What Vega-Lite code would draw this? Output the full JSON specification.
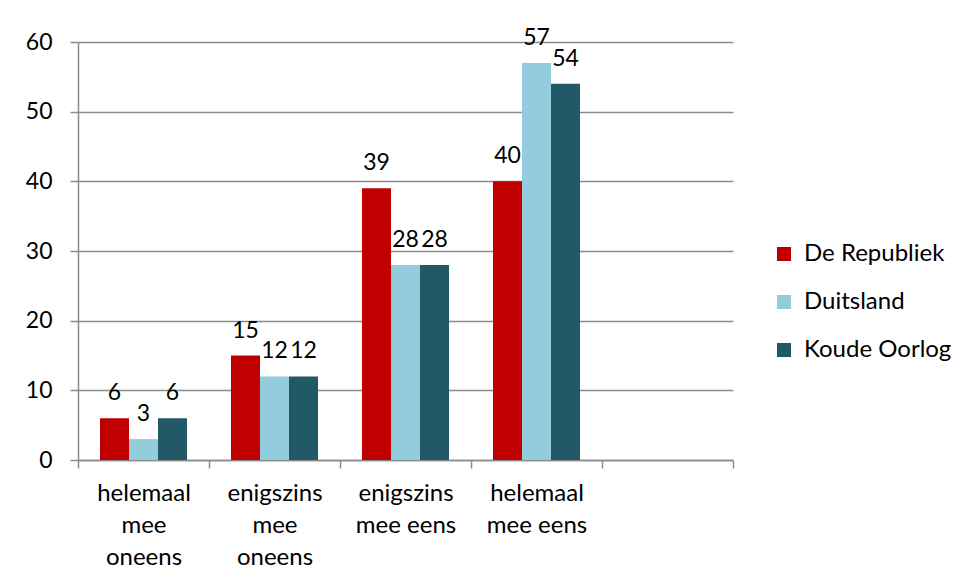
{
  "$schema": "https://vega.github.io/schema/vega-lite/v6.json",
  "autosize": "none",
  "width": 655,
  "height": 418,
  "padding": {"left": 78, "top": 42, "right": 225, "bottom": 123},
  "background": "white",
  "config": {
    "font": "Lato",
    "view": {"stroke": null},
    "axis": {"labelFont": "Lato", "labelColor": "#000000", "domainColor": "#8c8c8c", "tickColor": "#8c8c8c", "gridColor": "#8c8c8c", "domainWidth": 1.5, "tickWidth": 1.5, "gridWidth": 1.5}
  },
  "data": {
    "values": [
      {"cat": "helemaal|mee|oneens", "serie": "De Republiek", "val": 6},
      {"cat": "helemaal|mee|oneens", "serie": "Duitsland", "val": 3},
      {"cat": "helemaal|mee|oneens", "serie": "Koude Oorlog", "val": 6},
      {"cat": "enigszins|mee|oneens", "serie": "De Republiek", "val": 15},
      {"cat": "enigszins|mee|oneens", "serie": "Duitsland", "val": 12},
      {"cat": "enigszins|mee|oneens", "serie": "Koude Oorlog", "val": 12},
      {"cat": "enigszins|mee eens", "serie": "De Republiek", "val": 39},
      {"cat": "enigszins|mee eens", "serie": "Duitsland", "val": 28},
      {"cat": "enigszins|mee eens", "serie": "Koude Oorlog", "val": 28},
      {"cat": "helemaal|mee eens", "serie": "De Republiek", "val": 40},
      {"cat": "helemaal|mee eens", "serie": "Duitsland", "val": 57},
      {"cat": "helemaal|mee eens", "serie": "Koude Oorlog", "val": 54}
    ]
  },
  "encoding": {
    "x": {
      "field": "cat", "type": "nominal", "sort": null,
      "scale": {"domain": ["helemaal|mee|oneens", "enigszins|mee|oneens", "enigszins|mee eens", "helemaal|mee eens", " "], "paddingInner": 0, "paddingOuter": 0},
      "axis": {"title": null, "labelAngle": 0, "labelExpr": "split(datum.label, '|')", "labelFontSize": 24, "labelLineHeight": 32, "labelPadding": 13, "tickSize": 8, "tickBand": "extent", "labelBaseline": "top"}
    },
    "xOffset": {"field": "serie", "type": "nominal", "sort": ["De Republiek", "Duitsland", "Koude Oorlog"], "scale": {"paddingInner": 0, "paddingOuter": 0.7586}},
    "y": {
      "field": "val", "type": "quantitative",
      "scale": {"domain": [0, 60], "nice": false},
      "axis": {"title": null, "values": [0, 10, 20, 30, 40, 50, 60], "labelFontSize": 23, "tickSize": 8, "labelPadding": 18, "grid": true}
    }
  },
  "layer": [
    {
      "mark": {"type": "bar"},
      "encoding": {
        "color": {
          "field": "serie", "type": "nominal",
          "scale": {"domain": ["De Republiek", "Duitsland", "Koude Oorlog"], "range": ["#C00000", "#93CDDD", "#215967"]},
          "legend": {"title": null, "orient": "none", "legendX": 694, "legendY": 200, "symbolType": "square", "symbolSize": 196, "symbolStrokeWidth": 0, "labelFontSize": 24, "labelFont": "Lato", "labelColor": "#000000", "rowPadding": 24, "labelOffset": 8}
        }
      }
    },
    {
      "mark": {"type": "text", "baseline": "alphabetic", "dy": -18, "fontSize": 23, "font": "Lato", "color": "#000000"},
      "encoding": {"text": {"field": "val", "type": "quantitative"}}
    }
  ]
}
